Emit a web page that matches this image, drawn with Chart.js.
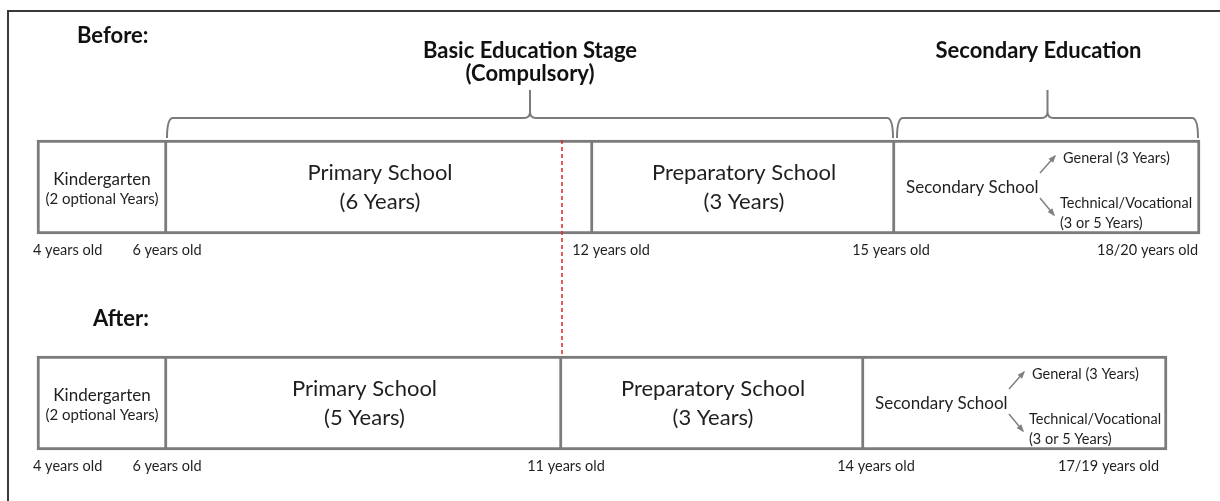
<!DOCTYPE html>
<html>
<head>
<meta charset="utf-8">
<script src="https://cdn.jsdelivr.net/npm/chart.js@4.4.1/dist/chart.umd.min.js"></script>
<style>
  html, body { margin: 0; padding: 0; background: #ffffff; }
  canvas { display: block; }
</style>
</head>
<body>
<canvas id="c" width="1220" height="501"></canvas>
<script>
// ---------- data ----------
const rows = ['Before:', 'After:'];
const stages = ['Kindergarten', 'Primary School', 'Preparatory School', 'Secondary School'];
const beforeNotes = ['(2 optional Years)', '(6 Years)', '(3 Years)', ''];
const afterNotes  = ['(2 optional Years)', '(5 Years)', '(3 Years)', ''];
// stage boundaries in diagram units (the diagram is not drawn to a year scale)
const beforeEdges = [37, 167, 593, 895, 1200];
const afterEdges  = [37, 167, 562, 864, 1167];
const beforeAges = ['4 years old', '6 years old', '12 years old', '15 years old', '18/20 years old'];
const afterAges  = ['4 years old', '6 years old', '11 years old', '14 years old', '17/19 years old'];
const secondaryTracks = ['General (3 Years)', 'Technical/Vocational', '(3 or 5 Years)'];
const groupTitles = [['Basic Education Stage', '(Compulsory)'], ['Secondary Education']];
const groupStages = [[1, 2], [3, 3]]; // stage index range covered by each brace

// ---------- style ----------
const FONT = 'Lato, "Open Sans", sans-serif';
const BOX = '#7b7b7b';
const TXT = '#1f1f1f';
const BAR_H = 94;
// small horizontal nudges of the age labels relative to their boundary (px)
const ageNudge = [[-4, 0, 18, -4, -2], [-4, 0, 4, 12, -8]];

const notes = [beforeNotes, afterNotes];
const edges = [beforeEdges, afterEdges];
const ages = [beforeAges, afterAges];

const datasets = stages.map((s, i) => ({
  label: s,
  data: [[beforeEdges[i], beforeEdges[i + 1]], [afterEdges[i], afterEdges[i + 1]]],
  backgroundColor: '#ffffff',
  borderColor: BOX,
  borderWidth: i === 0 ? 3 : { top: 3, right: 3, bottom: 3, left: 0 },
  borderSkipped: false,
  barThickness: BAR_H,
  grouped: false,
  clip: false
}));

function txt(ctx, s, x, y, size, align, weight, color) {
  ctx.font = (weight || 'normal') + ' ' + size + 'px ' + FONT;
  ctx.textAlign = align || 'center';
  ctx.textBaseline = 'middle';
  ctx.fillStyle = color || TXT;
  ctx.fillText(s, x, y);
}

function arrow(ctx, x1, y1, x2, y2) {
  ctx.save();
  ctx.strokeStyle = '#808080';
  ctx.fillStyle = '#808080';
  ctx.lineWidth = 1.5;
  ctx.beginPath(); ctx.moveTo(x1, y1); ctx.lineTo(x2, y2); ctx.stroke();
  const a = Math.atan2(y2 - y1, x2 - x1), L = 7;
  ctx.beginPath();
  ctx.moveTo(x2 + 1.5 * Math.cos(a), y2 + 1.5 * Math.sin(a));
  ctx.lineTo(x2 - L * Math.cos(a - 0.45), y2 - L * Math.sin(a - 0.45));
  ctx.lineTo(x2 - L * Math.cos(a + 0.45), y2 - L * Math.sin(a + 0.45));
  ctx.closePath(); ctx.fill();
  ctx.restore();
}

const decor = {
  id: 'decor',
  beforeDraw(chart) {
    const ctx = chart.ctx;
    ctx.save();
    ctx.fillStyle = '#fff';
    ctx.fillRect(0, 0, chart.width, chart.height);
    ctx.restore();
  },
  afterDatasetsDraw(chart) {
    const ctx = chart.ctx;
    const xs = chart.scales.x;
    ctx.save();
    // outer frame
    ctx.strokeStyle = '#3a3a3a';
    ctx.lineWidth = 2;
    ctx.strokeRect(8, 11, chart.width + 40, chart.height + 40);

    rows.forEach((r, j) => {
      const cy = chart.getDatasetMeta(0).data[j].y;
      const top = cy - BAR_H / 2, bot = cy + BAR_H / 2;
      // row title
      txt(ctx, r, xs.getPixelForValue(edges[j][0]) + (j ? 56 : 40), top - (j ? 37 : 104), 22, 'left', 'bold', '#111');

      stages.forEach((s, i) => {
        const el = chart.getDatasetMeta(i).data[j];
        const x0 = Math.min(el.x, el.base), x1 = Math.max(el.x, el.base);
        const cx = (x0 + x1) / 2;
        if (i === 0) {
          txt(ctx, s, cx, cy - 7.5, 17);
          txt(ctx, notes[j][i], cx, cy + 12.5, 15);
        } else if (i < 3) {
          txt(ctx, s, cx, cy - 14, 22);
          txt(ctx, notes[j][i], cx, cy + 15, 22);
        } else {
          txt(ctx, s, x0 + 11, cy + 1, 17, 'left');
          arrow(ctx, x0 + 145, cy - 14, x0 + 160, cy - 31);
          arrow(ctx, x0 + 145, cy + 11, x0 + 159, cy + 28);
          txt(ctx, secondaryTracks[0], x0 + 168, cy - 29, 14.5, 'left');
          txt(ctx, secondaryTracks[1], x0 + 165, cy + 16, 14.5, 'left');
          txt(ctx, secondaryTracks[2], x0 + 165, cy + 36, 14.5, 'left');
        }
      });

      // age labels
      ages[j].forEach((a, k) => {
        const px = xs.getPixelForValue(edges[j][k]);
        const align = k === 0 ? 'left' : (k === ages[j].length - 1 ? 'right' : 'center');
        txt(ctx, a, px + ageNudge[j][k], bot + 16, 14.5, align);
      });
    });

    // braces over the "Before" row
    const topB = chart.getDatasetMeta(0).data[0].y - BAR_H / 2;
    groupStages.forEach((g, gi) => {
      const xa = xs.getPixelForValue(beforeEdges[g[0]]) + (gi ? 2 : 0);
      const xb = xs.getPixelForValue(beforeEdges[g[1] + 1]) - 2;
      const cx = (xa + xb) / 2;
      const yL = topB - 22, yE = topB - 2, yT = topB - 50, r = 6;
      ctx.strokeStyle = '#7b7b7b';
      ctx.lineWidth = 2;
      ctx.beginPath();
      ctx.moveTo(xa, yE);
      ctx.quadraticCurveTo(xa, yL, xa + r, yL);
      ctx.lineTo(cx - r, yL);
      ctx.quadraticCurveTo(cx, yL, cx, yL - r);
      ctx.lineTo(cx, yT);
      ctx.moveTo(cx, yL - r);
      ctx.quadraticCurveTo(cx, yL, cx + r, yL);
      ctx.lineTo(xb - r, yL);
      ctx.quadraticCurveTo(xb, yL, xb, yE);
      ctx.stroke();
      groupTitles[gi].forEach((t, ti) => {
        txt(ctx, t, cx - (gi ? 9 : 0), topB - 89 + ti * 23, 22, 'center', 'bold', '#111');
      });
    });

    // red dashed line marking the new end of primary school
    const xr = xs.getPixelForValue(afterEdges[2]);
    const yA = chart.getDatasetMeta(0).data[1].y - BAR_H / 2;
    ctx.strokeStyle = '#e0262a';
    ctx.lineWidth = 1.5;
    ctx.setLineDash([4, 3]);
    ctx.beginPath();
    ctx.moveTo(xr, topB);
    ctx.lineTo(xr, yA);
    ctx.stroke();
    ctx.restore();
  }
};

new Chart(document.getElementById('c'), {
  type: 'bar',
  data: { labels: rows, datasets },
  options: {
    indexAxis: 'y',
    responsive: false,
    animation: false,
    events: [],
    layout: { padding: { left: 0, right: 0, top: 187, bottom: 98 } },
    plugins: { legend: { display: false }, tooltip: { enabled: false } },
    scales: {
      x: { type: 'linear', min: 0, max: 1220, display: false },
      y: { type: 'category', offset: false, display: false }
    }
  },
  plugins: [decor]
});
</script>
</body>
</html>
